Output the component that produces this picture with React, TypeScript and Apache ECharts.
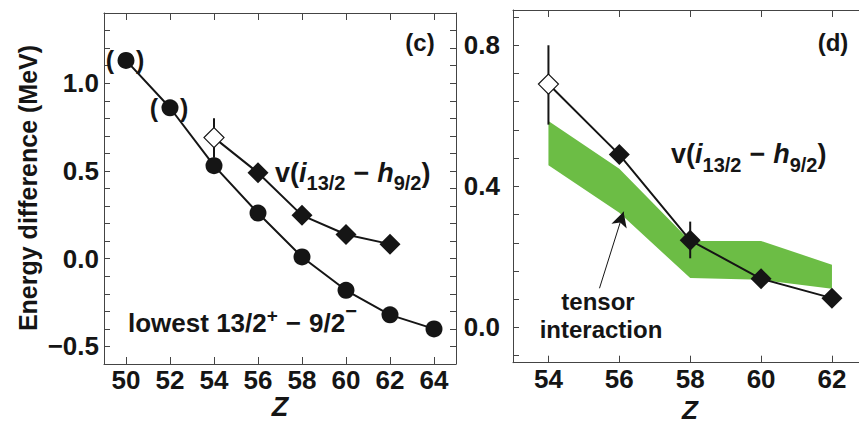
import React, { useEffect, useRef } from 'react';
import * as echarts from 'echarts';

const FONT = '"Liberation Sans", Arial, Helvetica, sans-serif';
const INK = '#151515';
const AXIS = '#444444';
const GREEN = '#6cbd45';

// ---- data ----
const zLowest = [50, 52, 54, 56, 58, 60, 62, 64];
const eLowest = [1.13, 0.86, 0.53, 0.26, 0.01, -0.18, -0.32, -0.4];
const zParen = [50, 52];
const zV = [54, 56, 58, 60, 62];
const vDiff = [0.69, 0.49, 0.247, 0.138, 0.083];
const errZ = [54, 58];
const errLow = [0.575, 0.196];
const errHigh = [0.8, 0.3];
const bandZ = [54, 56, 58, 60, 62];
const bandLow = [0.46, 0.325, 0.14, 0.135, 0.11];
const bandHigh = [0.585, 0.45, 0.245, 0.245, 0.178];
const arrowFrom = [55.44, 0.111];
const arrowTo = [56.12, 0.328];

// ---- ticks ----
const leftXTicks = [50, 52, 54, 56, 58, 60, 62, 64];
const leftYLabels = [-0.5, 0, 0.5, 1.0];
const leftYTicks = [-0.5, -0.4, -0.3, -0.2, -0.1, 0, 0.1, 0.2, 0.3, 0.4, 0.5, 0.6, 0.7, 0.8, 0.9, 1.0, 1.1, 1.2, 1.3];
const rightXTicks = [54, 56, 58, 60, 62];
const rightYLabels = [0, 0.4, 0.8];
const rightYTicks = [-0.08, 0, 0.08, 0.16, 0.24, 0.32, 0.4, 0.48, 0.56, 0.64, 0.72, 0.8, 0.88];

const fmtY = (v: number) => (v < -1e-9 ? '\u2212' : '') + Math.abs(v).toFixed(1);

type Seg = { t: string; fs: number; it?: boolean; dy?: number; pre?: number };

function buildText(ctx: CanvasRenderingContext2D, segs: Seg[], x0: number, baseline: number) {
  const out: any[] = [];
  let x = x0;
  segs.forEach((s) => {
    x += s.pre || 0;
    ctx.font = `${s.it ? 'italic ' : ''}bold ${s.fs}px ${FONT}`;
    const w = ctx.measureText(s.t).width;
    out.push({
      type: 'text',
      x,
      y: baseline + (s.dy || 0) - 0.35 * s.fs,
      silent: true,
      style: {
        text: s.t,
        fill: INK,
        fontSize: s.fs,
        fontWeight: 'bold',
        fontStyle: s.it ? 'italic' : 'normal',
        fontFamily: FONT,
        align: 'left',
        verticalAlign: 'middle',
      },
    });
    x += w;
  });
  return out;
}

const axisLineStyle = { show: true, onZero: false, lineStyle: { color: AXIS, width: 1 } };

function xAxes(gi: number, min: number, max: number, ticks: number[]) {
  return [
    {
      type: 'value', gridIndex: gi, position: 'bottom', min, max,
      axisLine: axisLineStyle, splitLine: { show: false },
      axisTick: { show: true, inside: true, length: 7, customValues: ticks, lineStyle: { color: AXIS, width: 1 } },
      axisLabel: { show: true, customValues: ticks, margin: 3, color: INK, fontSize: 26, fontWeight: 'bold', fontFamily: FONT },
    },
    {
      type: 'value', gridIndex: gi, position: 'top', min, max,
      axisLine: axisLineStyle, splitLine: { show: false },
      axisTick: { show: true, inside: true, length: 7, customValues: ticks, lineStyle: { color: AXIS, width: 1 } },
      axisLabel: { show: false },
    },
  ];
}

function yLeft(gi: number, min: number, max: number, ticks: number[], labels: number[], margin: number) {
  return {
    type: 'value', gridIndex: gi, position: 'left', min, max,
    axisLine: axisLineStyle, splitLine: { show: false },
    axisTick: { show: true, inside: true, length: 6, customValues: ticks, lineStyle: { color: AXIS, width: 1 } },
    axisLabel: { show: true, customValues: labels, margin, formatter: fmtY, color: INK, fontSize: 26, fontWeight: 'bold', fontFamily: FONT },
  };
}

function yRight(gi: number, min: number, max: number, ticks: number[]) {
  return {
    type: 'value', gridIndex: gi, position: 'right', min, max,
    axisLine: axisLineStyle, splitLine: { show: false },
    axisTick: { show: true, inside: true, length: 6, customValues: ticks, lineStyle: { color: AXIS, width: 1 } },
    axisLabel: { show: false },
  };
}

function errSeries(xi: number, yi: number) {
  return {
    type: 'custom', xAxisIndex: xi, yAxisIndex: yi, z: 2, silent: true,
    data: errZ.map((z, i) => [z, errLow[i], errHigh[i]]),
    encode: { x: 0, y: [1, 2] },
    renderItem: (_p: any, api: any) => {
      const a = api.coord([api.value(0), api.value(1)]);
      const b = api.coord([api.value(0), api.value(2)]);
      return { type: 'line', shape: { x1: a[0], y1: a[1], x2: b[0], y2: b[1] }, style: { stroke: INK, lineWidth: 2 } };
    },
  };
}

function vSeries(xi: number, yi: number, extra: any = {}) {
  return {
    type: 'line', xAxisIndex: xi, yAxisIndex: yi, z: 4, silent: true,
    symbol: 'diamond', symbolSize: 21,
    lineStyle: { color: INK, width: 2 },
    itemStyle: { color: INK },
    data: zV.map((z, i) =>
      i === 0
        ? { value: [z, vDiff[i]], symbolSize: 20, itemStyle: { color: '#ffffff', borderColor: INK, borderWidth: 1.2 } }
        : { value: [z, vDiff[i]] }
    ),
    ...extra,
  };
}

export default function App() {
  const ref = useRef<HTMLDivElement>(null);
  useEffect(() => {
    document.body.style.margin = '0';
    if (!ref.current) return;
    const chart = echarts.init(ref.current, undefined, { renderer: 'svg' });
    const ctx = document.createElement('canvas').getContext('2d') as CanvasRenderingContext2D;

    const vLabel = (x0: number, base: number) =>
      buildText(ctx, [
        { t: 'v(', fs: 27 },
        { t: 'i', fs: 27, it: true },
        { t: '13/2', fs: 20, dy: 8 },
        { t: '\u2212', fs: 27, pre: 8 },
        { t: 'h', fs: 27, it: true, pre: 8 },
        { t: '9/2', fs: 20, dy: 8 },
        { t: ')', fs: 27 },
      ], x0, base);

    const lowestLabel = buildText(ctx, [
      { t: 'lowest 13/2', fs: 26 },
      { t: '+', fs: 19, dy: -10 },
      { t: '\u2212', fs: 26, pre: 8 },
      { t: '9/2', fs: 26, pre: 8 },
      { t: '\u2212', fs: 20, dy: -14 },
    ], 128, 332);

    const centered = (text: string, x: number, y: number, fs: number, italic = false, rotation = 0) => ({
      type: 'text', x, y, rotation, silent: true,
      style: {
        text, fill: INK, fontSize: fs, fontWeight: 'bold', fontStyle: italic ? 'italic' : 'normal',
        fontFamily: FONT, align: 'center', verticalAlign: 'middle',
      },
    });

    const parenLabel = {
      show: true, position: 'inside', formatter: '{a|(}{b|)}', offset: [-1, 0],
      rich: {
        a: { fontSize: 25, fontWeight: 'bold', color: INK, fontFamily: FONT, padding: [0, 12, 0, 0] },
        b: { fontSize: 25, fontWeight: 'bold', color: INK, fontFamily: FONT, padding: [0, 0, 0, 10] },
      },
    };

    const option: any = {
      animation: false,
      grid: [
        { left: 104, top: 13, width: 352, height: 351, outerBoundsMode: 'none' },
        { left: 513, top: 10, width: 354.4, height: 352.7, outerBoundsMode: 'none' },
      ],
      xAxis: [...xAxes(0, 49, 65, leftXTicks), ...xAxes(1, 53, 63, rightXTicks)],
      yAxis: [
        yLeft(0, -0.6, 1.4, leftYTicks, leftYLabels, 5),
        yRight(0, -0.6, 1.4, leftYTicks),
        yLeft(1, -0.1, 0.9, rightYTicks, rightYLabels, 13),
      ],
      series: [
        // left panel
        errSeries(0, 0),
        {
          type: 'line', xAxisIndex: 0, yAxisIndex: 0, z: 3, silent: true,
          symbol: 'circle', symbolSize: 17,
          lineStyle: { color: INK, width: 2 }, itemStyle: { color: INK },
          data: zLowest.map((z, i) =>
            zParen.includes(z) ? { value: [z, eLowest[i]], label: parenLabel } : { value: [z, eLowest[i]] }
          ),
        },
        vSeries(0, 0),
        // right panel
        {
          type: 'custom', xAxisIndex: 2, yAxisIndex: 2, z: 1, silent: true,
          data: bandZ.map((z, i) => [z, bandLow[i], bandHigh[i]]),
          encode: { x: 0, y: [1, 2] },
          renderItem: (p: any, api: any) => {
            if (p.dataIndex !== 0) return { type: 'group', children: [] };
            const pts: number[][] = [];
            bandZ.forEach((z, i) => pts.push(api.coord([z, bandHigh[i]])));
            for (let i = bandZ.length - 1; i >= 0; i--) pts.push(api.coord([bandZ[i], bandLow[i]]));
            return { type: 'polygon', shape: { points: pts }, style: { fill: GREEN } };
          },
        },
        errSeries(2, 2),
        vSeries(2, 2, {
          markLine: {
            silent: true, animation: false,
            symbol: ['none', 'arrow'], symbolSize: [12, 15],
            label: { show: false },
            lineStyle: { color: INK, width: 1, type: 'solid' },
            data: [[{ coord: arrowFrom }, { coord: arrowTo }]],
          },
        }),
      ],
      graphic: [
        centered('Energy difference (MeV)', 28, 188, 25, false, Math.PI / 2),
        centered('(c)', 420, 42, 24),
        centered('(d)', 833, 42, 24),
        centered('Z', 280, 407, 27, true),
        centered('Z', 690, 410, 26, true),
        centered('tensor', 598, 301.6, 24),
        centered('interaction', 601, 329.6, 24),
        ...vLabel(275, 182),
        ...vLabel(671, 163.5),
        ...lowestLabel,
      ],
    };
    chart.setOption(option);
    return () => chart.dispose();
  }, []);
  return <div ref={ref} style={{ width: 859, height: 426 }} />;
}
